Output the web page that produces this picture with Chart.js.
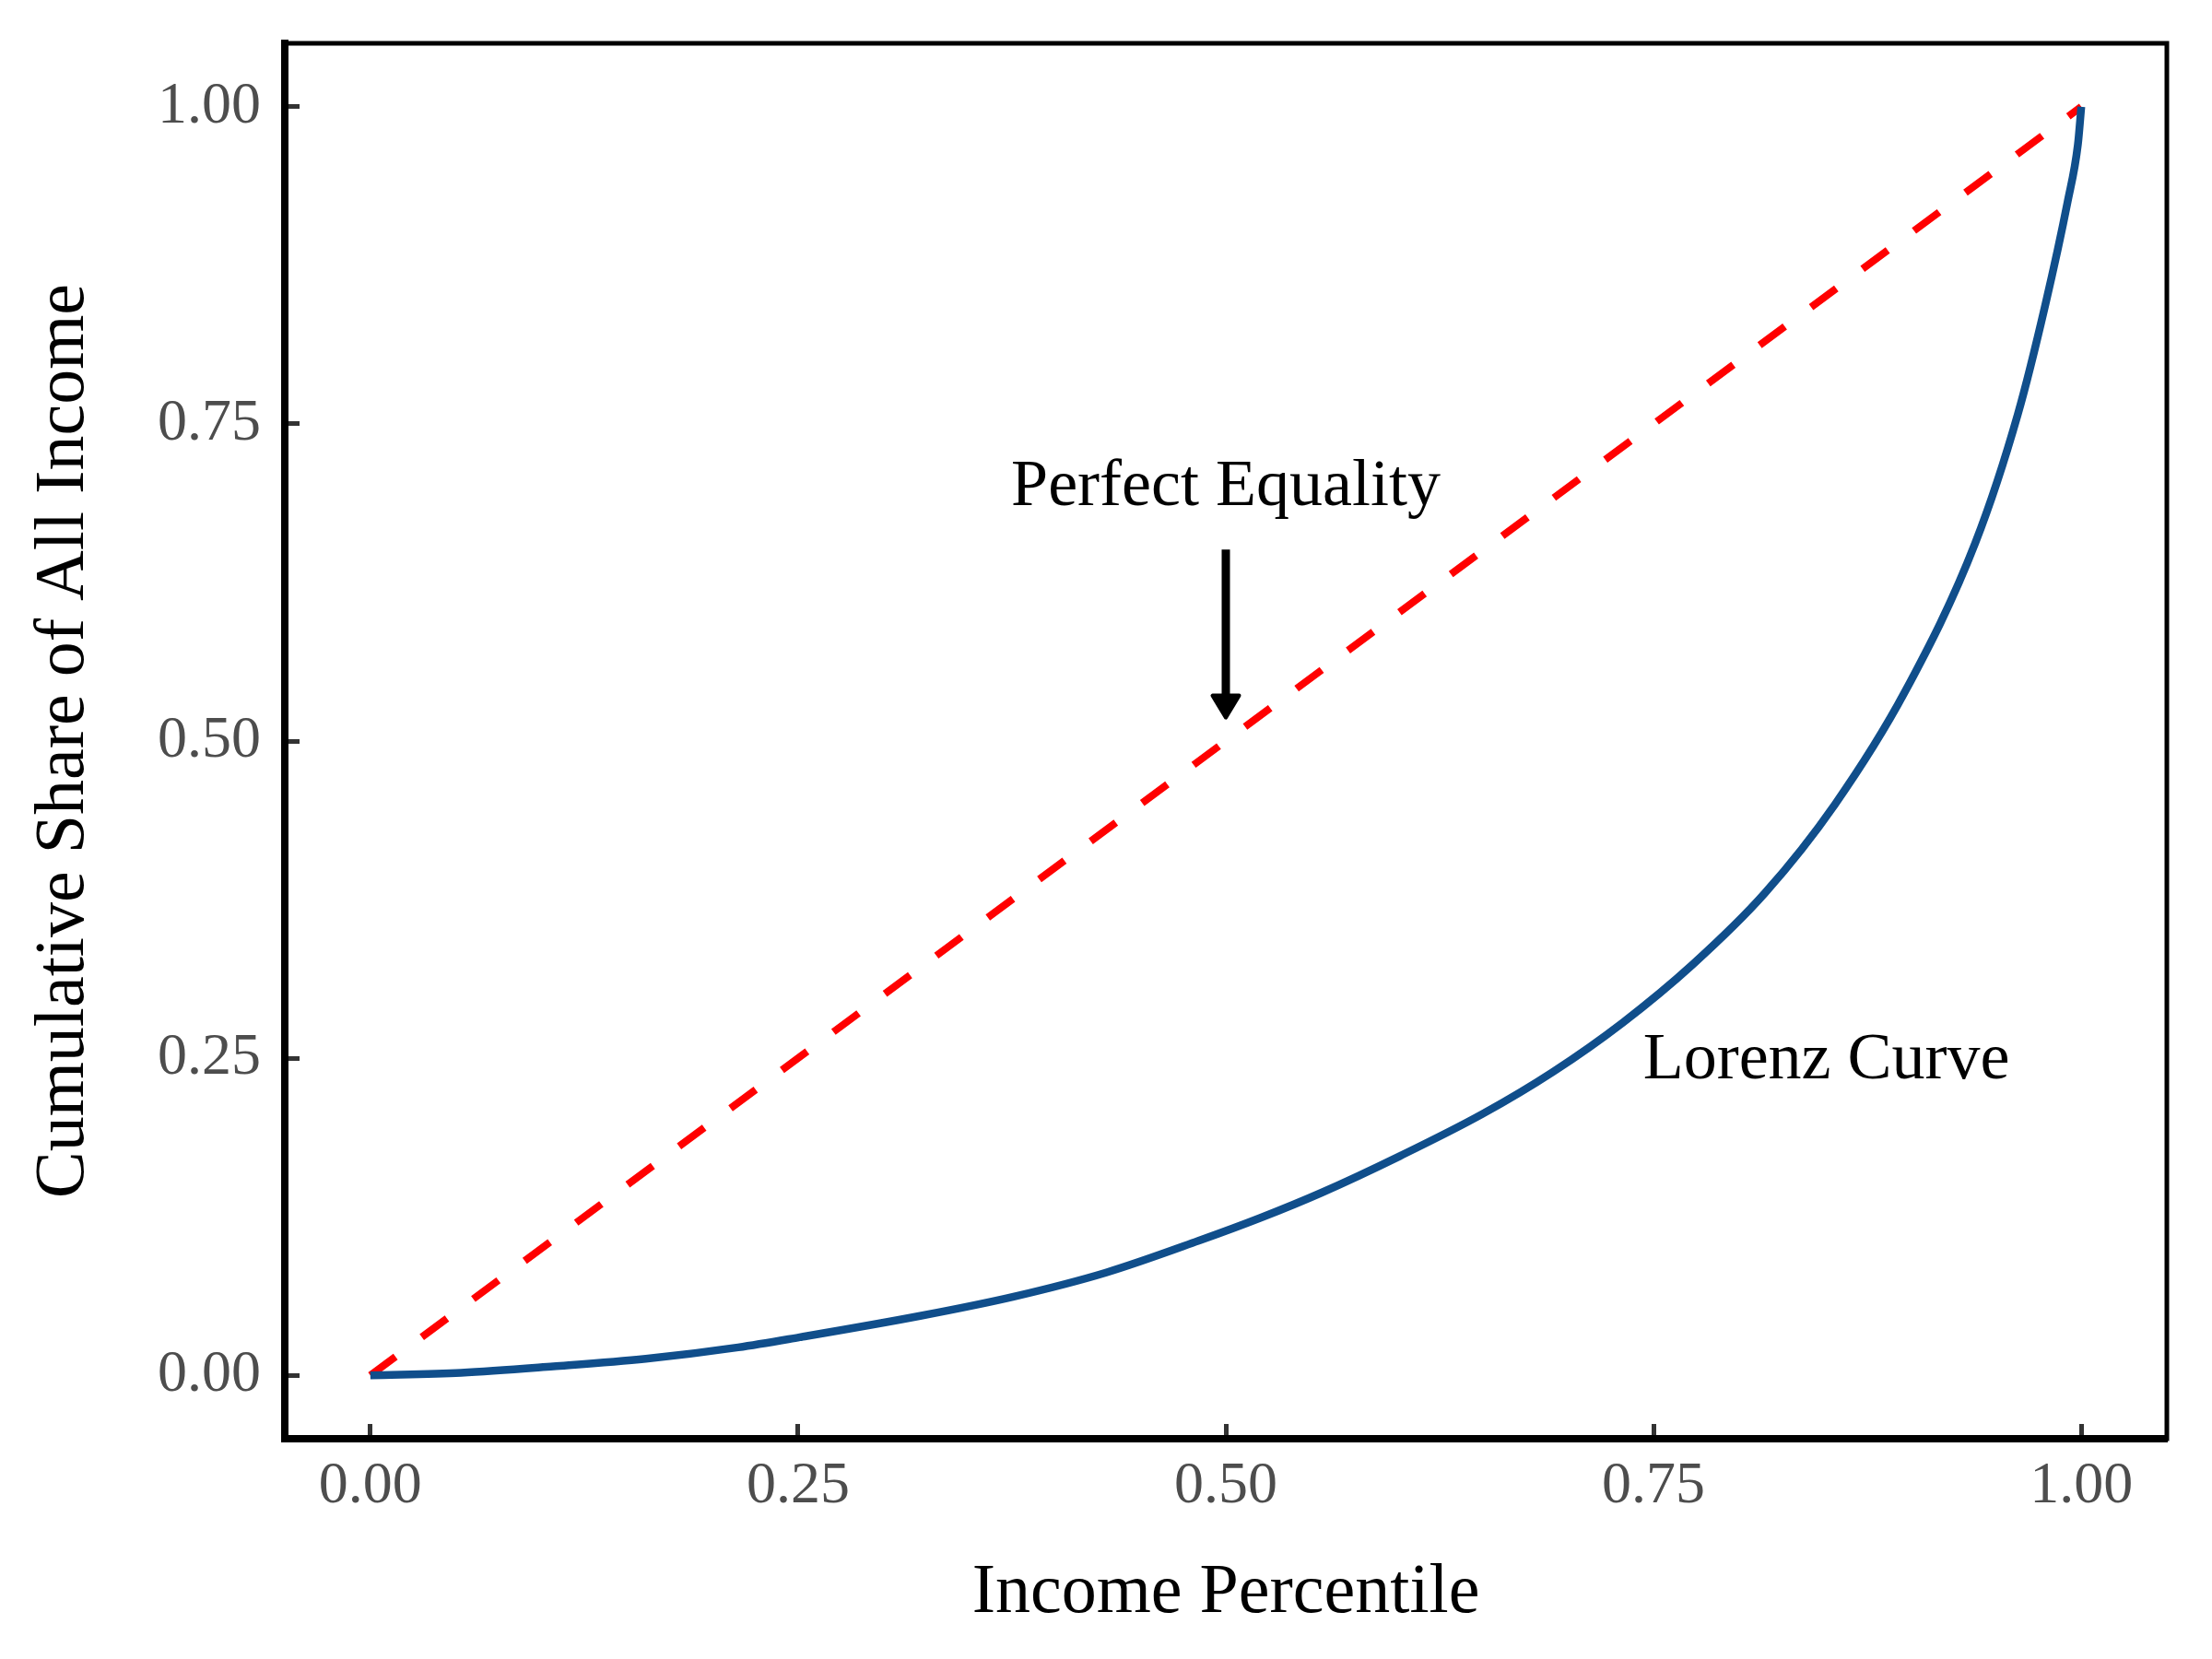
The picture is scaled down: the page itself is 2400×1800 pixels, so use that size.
<!DOCTYPE html>
<html>
<head>
<meta charset="utf-8">
<script src="https://cdn.jsdelivr.net/npm/chart.js@4.4.1/dist/chart.umd.min.js"></script>
<style>
  html, body { margin: 0; padding: 0; background: #fff; }
  canvas { display: block; }
</style>
</head>
<body>
<canvas id="lorenz" width="2400" height="1800"></canvas>
<script>
// values
const percentile = [0, 0.053, 0.107, 0.161, 0.215, 0.251, 0.322, 0.376, 0.430, 0.484, 0.520, 0.556,
  0.602, 0.650, 0.691, 0.732, 0.773, 0.815, 0.856, 0.897, 0.938, 0.963, 0.979, 0.992, 0.998, 1.0]
const incomeShare = [0, 0.002, 0.007, 0.013, 0.022, 0.030, 0.047, 0.062, 0.081, 0.106, 0.124, 0.144,
  0.173, 0.206, 0.239, 0.278, 0.324, 0.380, 0.450, 0.539, 0.656, 0.758, 0.844, 0.925, 0.970, 1.0]
const equalityX = [0, 1]
const equalityY = [0, 1]
const tickValues = [0, 0.25, 0.5, 0.75, 1]

const labelText = ['Perfect Equality', 'Lorenz Curve']
const labelX = [0.5, 0.851]
const labelY = [0.70, 0.248]
const arrowX = 0.5
const arrowY = [0.651, 0.517]

const serif = 'Liberation Serif'

const toPoints = (xs, ys) => xs.map((v, i) => ({ x: v, y: ys[i] }))

// panel border, text labels and the arrow
const annotate = {
  id: 'annotate',
  afterDatasetsDraw (chart) {
    const { ctx, chartArea: a, scales } = chart
    const { x, y } = scales
    ctx.save()
    ctx.strokeStyle = '#000'
    ctx.lineWidth = 5
    ctx.strokeRect(a.left, a.top, a.right - a.left, a.bottom - a.top)

    ctx.fillStyle = '#000'
    ctx.font = `72px "${serif}"`
    ctx.textAlign = 'center'
    ctx.textBaseline = 'middle'
    labelText.forEach((t, i) => ctx.fillText(t, x.getPixelForValue(labelX[i]), y.getPixelForValue(labelY[i])))

    const ax = x.getPixelForValue(arrowX)
    const top = y.getPixelForValue(arrowY[0])
    const tip = y.getPixelForValue(arrowY[1])
    ctx.lineWidth = 9
    ctx.beginPath()
    ctx.moveTo(ax, top)
    ctx.lineTo(ax, tip - 22)
    ctx.stroke()
    ctx.lineWidth = 4
    ctx.lineJoin = 'round'
    ctx.beginPath()
    ctx.moveTo(ax - 14.5, tip - 26)
    ctx.lineTo(ax + 14.5, tip - 26)
    ctx.lineTo(ax, tip - 2)
    ctx.closePath()
    ctx.fill()
    ctx.stroke()
    ctx.restore()
  }
}

const axisOpts = (title, size, titlePad, tickPad) => ({
  type: 'linear',
  min: -0.05,
  max: 1.05,
  afterBuildTicks: s => { s.ticks = tickValues.map(v => ({ value: v })) },
  afterFit: s => {
    if (s.isHorizontal()) { s.height = size } else { s.width = size }
    s.paddingTop = s.paddingBottom = s.paddingLeft = s.paddingRight = 0
  },
  border: { display: true, color: '#000', width: 8 },
  grid: { display: true, drawOnChartArea: false, drawTicks: true, tickLength: -16, tickWidth: 5, tickColor: '#333333' },
  ticks: {
    padding: tickPad,
    color: '#4D4D4D',
    font: { family: serif, size: 64 },
    maxRotation: 0,
    autoSkip: false,
    callback: v => v.toFixed(2)
  },
  title: { display: true, text: title, color: '#000', font: { family: serif, size: 76 }, padding: titlePad }
})

new Chart(document.getElementById('lorenz'), {
  type: 'scatter',
  data: {
    datasets: [{
      label: 'Lorenz Curve',
      data: toPoints(percentile, incomeShare),
      showLine: true,
      borderColor: '#104E8B',
      borderWidth: 8.5,
      pointRadius: 0,
      cubicInterpolationMode: 'monotone'
    }, {
      label: 'Perfect Equality',
      data: toPoints(equalityX, equalityY),
      showLine: true,
      borderColor: '#FF0000',
      borderWidth: 8,
      borderDash: [34, 35.5],
      borderCapStyle: 'butt',
      pointRadius: 0
    }]
  },
  options: {
    responsive: false,
    devicePixelRatio: 1,
    animation: false,
    layout: { padding: { left: 0, top: 47, right: 49, bottom: 0 } },
    plugins: { legend: { display: false }, tooltip: { enabled: false } },
    scales: {
      x: axisOpts('Income Percentile', 239, { top: 0, bottom: 25 }, 30),
      y: axisOpts('Cumulative Share of All Income', 309, { top: 24, bottom: 0 }, 42)
    }
  },
  plugins: [annotate]
})
</script>
</body>
</html>
